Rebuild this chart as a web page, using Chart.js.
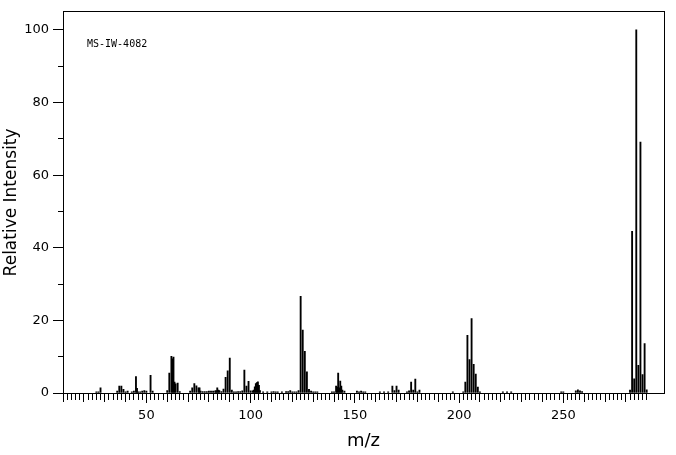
<!DOCTYPE html>
<html>
<head>
<meta charset="utf-8">
<script src="https://cdn.jsdelivr.net/npm/chart.js@4.4.1/dist/chart.umd.min.js"></script>
<style>
html,body{margin:0;padding:0;background:#fff;}
#wrap{width:676px;height:455px;}
</style>
</head>
<body>
<div id="wrap"><canvas id="c" width="676" height="455"></canvas></div>
<script>
// m/z values of the peaks
const mz = [26,27,28,36,37,38,39,40,41,43,44,45,45.5,46,47,48,49,50,52,53,
  60,61,62,62.5,63,63.5,64,65,66,71,72,73,74,75,75.5,76,77,78,79,80,81,82,83,83.5,84,84.5,85,86,87,88,89,90,
  91,92,93,94,95,96,97,98,99,100,101,101.5,102,102.5,103,103.5,104,104.5,106,108,110,111,112,113,115,117,118,119,120,121,122,123,
  124,125,126,127,128,129,130,131,132,139,140,141,141.5,142,142.5,143,143.5,144,145,151,152,153,154,155,162,164,166,
  168,169,170,171,175,176,177,178,179,180,181,197,202,203,204,205,206,207,208,209,210,221,223,225,249,250,256,257,258,259,
  282,283,284,285,286,287,288,289,290];
// relative intensities (%)
const intensity = [0.3,0.3,1.4,0.5,1.9,1.9,1.0,0.3,0.5,0.3,0.5,4.5,1.3,0.3,0.3,0.5,0.7,0.5,4.9,0.5,
  0.7,5.5,10.1,9.4,9.9,3.0,2.5,2.7,0.4,0.5,1.4,2.6,2.0,1.4,1.4,0.5,0.4,0.4,0.4,0.5,0.5,0.5,0.6,0.7,1.4,0.8,0.7,0.4,1.1,4.3,6.1,9.6,
  0.8,0.3,0.3,0.4,0.4,0.6,6.3,1.9,3.2,0.6,0.6,0.8,1.7,2.6,2.9,3.1,2.1,0.7,0.3,0.3,0.3,0.4,0.3,0.3,0.3,0.4,0.4,0.7,0.3,0.3,0.3,0.7,
  26.6,17.3,11.5,5.8,1.0,0.5,0.3,0.3,0.3,0.3,0.3,1.9,1.6,5.5,1.4,3.3,1.9,0.8,0.5,0.5,0.3,0.5,0.3,0.3,0.3,0.3,0.3,
  1.9,0.7,1.9,0.8,0.3,0.6,3.0,0.8,3.8,0.3,0.8,0.3,0.3,3.0,15.9,9.2,20.5,7.9,5.2,1.6,0.3,0.3,0.3,0.3,0.3,0.3,0.6,0.9,0.6,0.4,
  0.8,44.5,3.9,100,7.6,69.1,5.1,13.6,0.9];

const xMin = 10, xMax = 298.3, xTickLast = 290;
const yMin = 0, yMax = 105, yTickLast = 100;
const xLabelStep = 50, xMidStep = 10, xMinorStep = 2;
const yLabelStep = 20, yMinorStep = 10;
const specLabel = 'MS-IW-4082';
const xTitle = 'm/z';
const yTitle = 'Relative Intensity';

const FONT = "'DejaVu Sans', sans-serif";
const limit = (last, step) => s => {
  s.ticks = s.ticks.filter(t => t.value <= last + 1e-9 && Math.abs(t.value / step - Math.round(t.value / step)) < 1e-6);
};

function auxX(step, len, weight) {
  return {
    type: 'linear', position: 'bottom', min: xMin, max: xMax, offset: false, weight: weight,
    afterBuildTicks: limit(xTickLast, step),
    ticks: { display: false, stepSize: step, autoSkip: false },
    grid: { drawOnChartArea: false, offset: false, tickLength: len, tickColor: '#000', color: '#000', tickWidth: 1 },
    border: { display: false },
    afterFit: s => { s.height = 0; }
  };
}

const bgPlugin = {
  id: 'bg',
  beforeDraw(chart) {
    const ctx = chart.ctx;
    ctx.save(); ctx.fillStyle = '#fff'; ctx.fillRect(0, 0, chart.width, chart.height); ctx.restore();
  }
};
const labelPlugin = {
  id: 'specLabel',
  afterDraw(chart) {
    const ctx = chart.ctx, a = chart.chartArea;
    ctx.save();
    ctx.font = "10px 'DejaVu Sans Mono', monospace";
    ctx.fillStyle = '#000';
    ctx.textBaseline = 'alphabetic';
    ctx.textAlign = 'left';
    ctx.fillText(specLabel, a.left + 24, a.top + 35);
    ctx.restore();
  }
};

new Chart(document.getElementById('c'), {
  type: 'bar',
  data: {
    datasets: [{
      data: mz.map((m, i) => ({ x: m, y: intensity[i] })),
      backgroundColor: '#000',
      borderWidth: 0,
      barThickness: 1.2
    }]
  },
  options: {
    responsive: false,
    animation: false,
    layout: { padding: { left: 0, right: 12, top: 9, bottom: 0 } },
    plugins: { legend: { display: false }, tooltip: { enabled: false } },
    scales: {
      x: {
        type: 'linear', position: 'bottom', min: xMin, max: xMax, offset: false, weight: 3,
        afterBuildTicks: limit(xTickLast, xLabelStep),
        ticks: { stepSize: xLabelStep, autoSkip: false, maxRotation: 0, color: '#000', padding: 5,
                 font: { family: FONT, size: 13 } },
        grid: { drawOnChartArea: false, offset: false, tickLength: 10, tickColor: '#000', color: '#000' },
        border: { display: true, color: '#000', width: 1 },
        title: { display: true, text: xTitle, color: '#000', font: { family: FONT, size: 18 }, padding: { top: 0, bottom: 3 } },
        afterFit: s => { s.height = 62; }
      },
      x10: auxX(xMidStep, 9, 2),
      x2: auxX(xMinorStep, 7, 1),
      xTop: {
        type: 'linear', position: 'top', min: xMin, max: xMax, offset: false,
        ticks: { display: false }, grid: { display: false },
        border: { display: true, color: '#000', width: 1 },
        afterFit: s => { s.height = 0; }
      },
      y: {
        type: 'linear', position: 'left', min: yMin, max: yMax, weight: 3,
        afterBuildTicks: limit(yTickLast, yLabelStep),
        ticks: { stepSize: yLabelStep, autoSkip: false, color: '#000', padding: 4,
                 font: { family: FONT, size: 13 } },
        grid: { drawOnChartArea: false, tickLength: 10, tickColor: '#000', color: '#000' },
        border: { display: true, color: '#000', width: 1 },
        title: { display: true, text: yTitle, color: '#000', font: { family: FONT, size: 17 }, padding: { top: 1, bottom: 0 } },
        afterFit: s => { s.width = 63; }
      },
      y10: {
        type: 'linear', position: 'left', min: yMin, max: yMax, weight: 1,
        afterBuildTicks: limit(yTickLast, yMinorStep),
        ticks: { display: false, stepSize: yMinorStep, autoSkip: false },
        grid: { drawOnChartArea: false, tickLength: 5, tickColor: '#000', color: '#000' },
        border: { display: false },
        afterFit: s => { s.width = 0; }
      },
      yRight: {
        type: 'linear', position: 'right', min: yMin, max: yMax,
        ticks: { display: false }, grid: { display: false },
        border: { display: true, color: '#000', width: 1 },
        afterFit: s => { s.width = 0; }
      }
    }
  },
  plugins: [bgPlugin, labelPlugin]
});
</script>
</body>
</html>
